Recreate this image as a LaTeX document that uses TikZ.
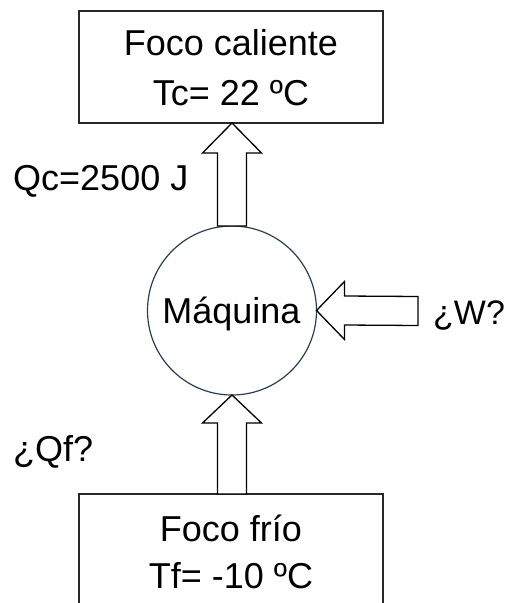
\documentclass[tikz,border=0pt]{standalone}
\usepackage{fontspec}
\setmainfont{Liberation Sans}
\usetikzlibrary{calc}
\definecolor{circcol}{RGB}{40,62,82}
\definecolor{boxcol}{RGB}{40,40,40}
\tikzset{
  x=1pt, y=-1pt,
  txt/.style={inner sep=0pt, font=\fontsize{36}{40}\selectfont, text height=26pt, text depth=0pt},
  boxnode/.style={draw=boxcol, line width=1.3pt, rectangle, outer sep=0pt, inner sep=0pt},
  machine/.style={draw=circcol, line width=1.2pt, circle, outer sep=0pt, inner sep=0pt, minimum size=169pt},
  blk/.style={draw=black, line width=1.3pt, fill=white, line join=miter}
}
\begin{document}
\begin{tikzpicture}
\clip (0,0) rectangle (509,603);
\fill[white] (0,0) rectangle (509,603);
% boxes
\node[boxnode, minimum width=304pt, minimum height=112pt] (hot) at (231,67) {};
\node[boxnode, minimum width=304pt, minimum height=120pt] (cold) at (231,554) {};
\node[txt] (hot1) at (231,42.5) {Foco caliente};
\node[txt] (hot2) at (231,92.5) {Tc= 22 ºC};
\node[txt] (cold1) at (231,528) {Foco frío};
\node[txt] (cold2) at (231,575.5) {Tf= -10 ºC};
% machine
\node[machine] (m) at (232,310.5) {};
\node[txt] (mtxt) at (231.5,310) {Máquina};
% labels
\node[txt, anchor=west] (qc) at (13,177.5) {Qc=2500 J};
\node[txt, anchor=west] (qf) at (13,448) {¿Qf?};
\node[txt, anchor=west, font=\fontsize{34}{38}\selectfont] (w) at (433,311.5) {¿W?};
\coordinate (hotin) at (232,123);
\coordinate (coldout) at (232,494);
\coordinate (wend) at (418,311);
% arrow machine -> hot
\draw[blk] ($(m.north)+(-14.5,0)$) -- ($(hotin)+(-14.5,30)$) -- ($(hotin)+(-29.5,30)$) -- (hotin)
  -- ($(hotin)+(29.5,30)$) -- ($(hotin)+(14.5,30)$) -- ($(m.north)+(14.5,0)$) -- cycle;
% arrow cold -> machine
\draw[blk] ($(coldout)+(-14.5,0)$) -- ($(m.south)+(-14.5,28)$) -- ($(m.south)+(-29.5,28)$) -- (m.south)
  -- ($(m.south)+(29.5,28)$) -- ($(m.south)+(14.5,28)$) -- ($(coldout)+(14.5,0)$) -- cycle;
% arrow W -> machine
\draw[blk] ($(wend)+(0,-14.5)$) -- ($(m.east)+(28,-14.5)$) -- ($(m.east)+(28,-29)$) -- (m.east)
  -- ($(m.east)+(28,29)$) -- ($(m.east)+(28,14.5)$) -- ($(wend)+(0,14.5)$) -- cycle;
\end{tikzpicture}
\end{document}
